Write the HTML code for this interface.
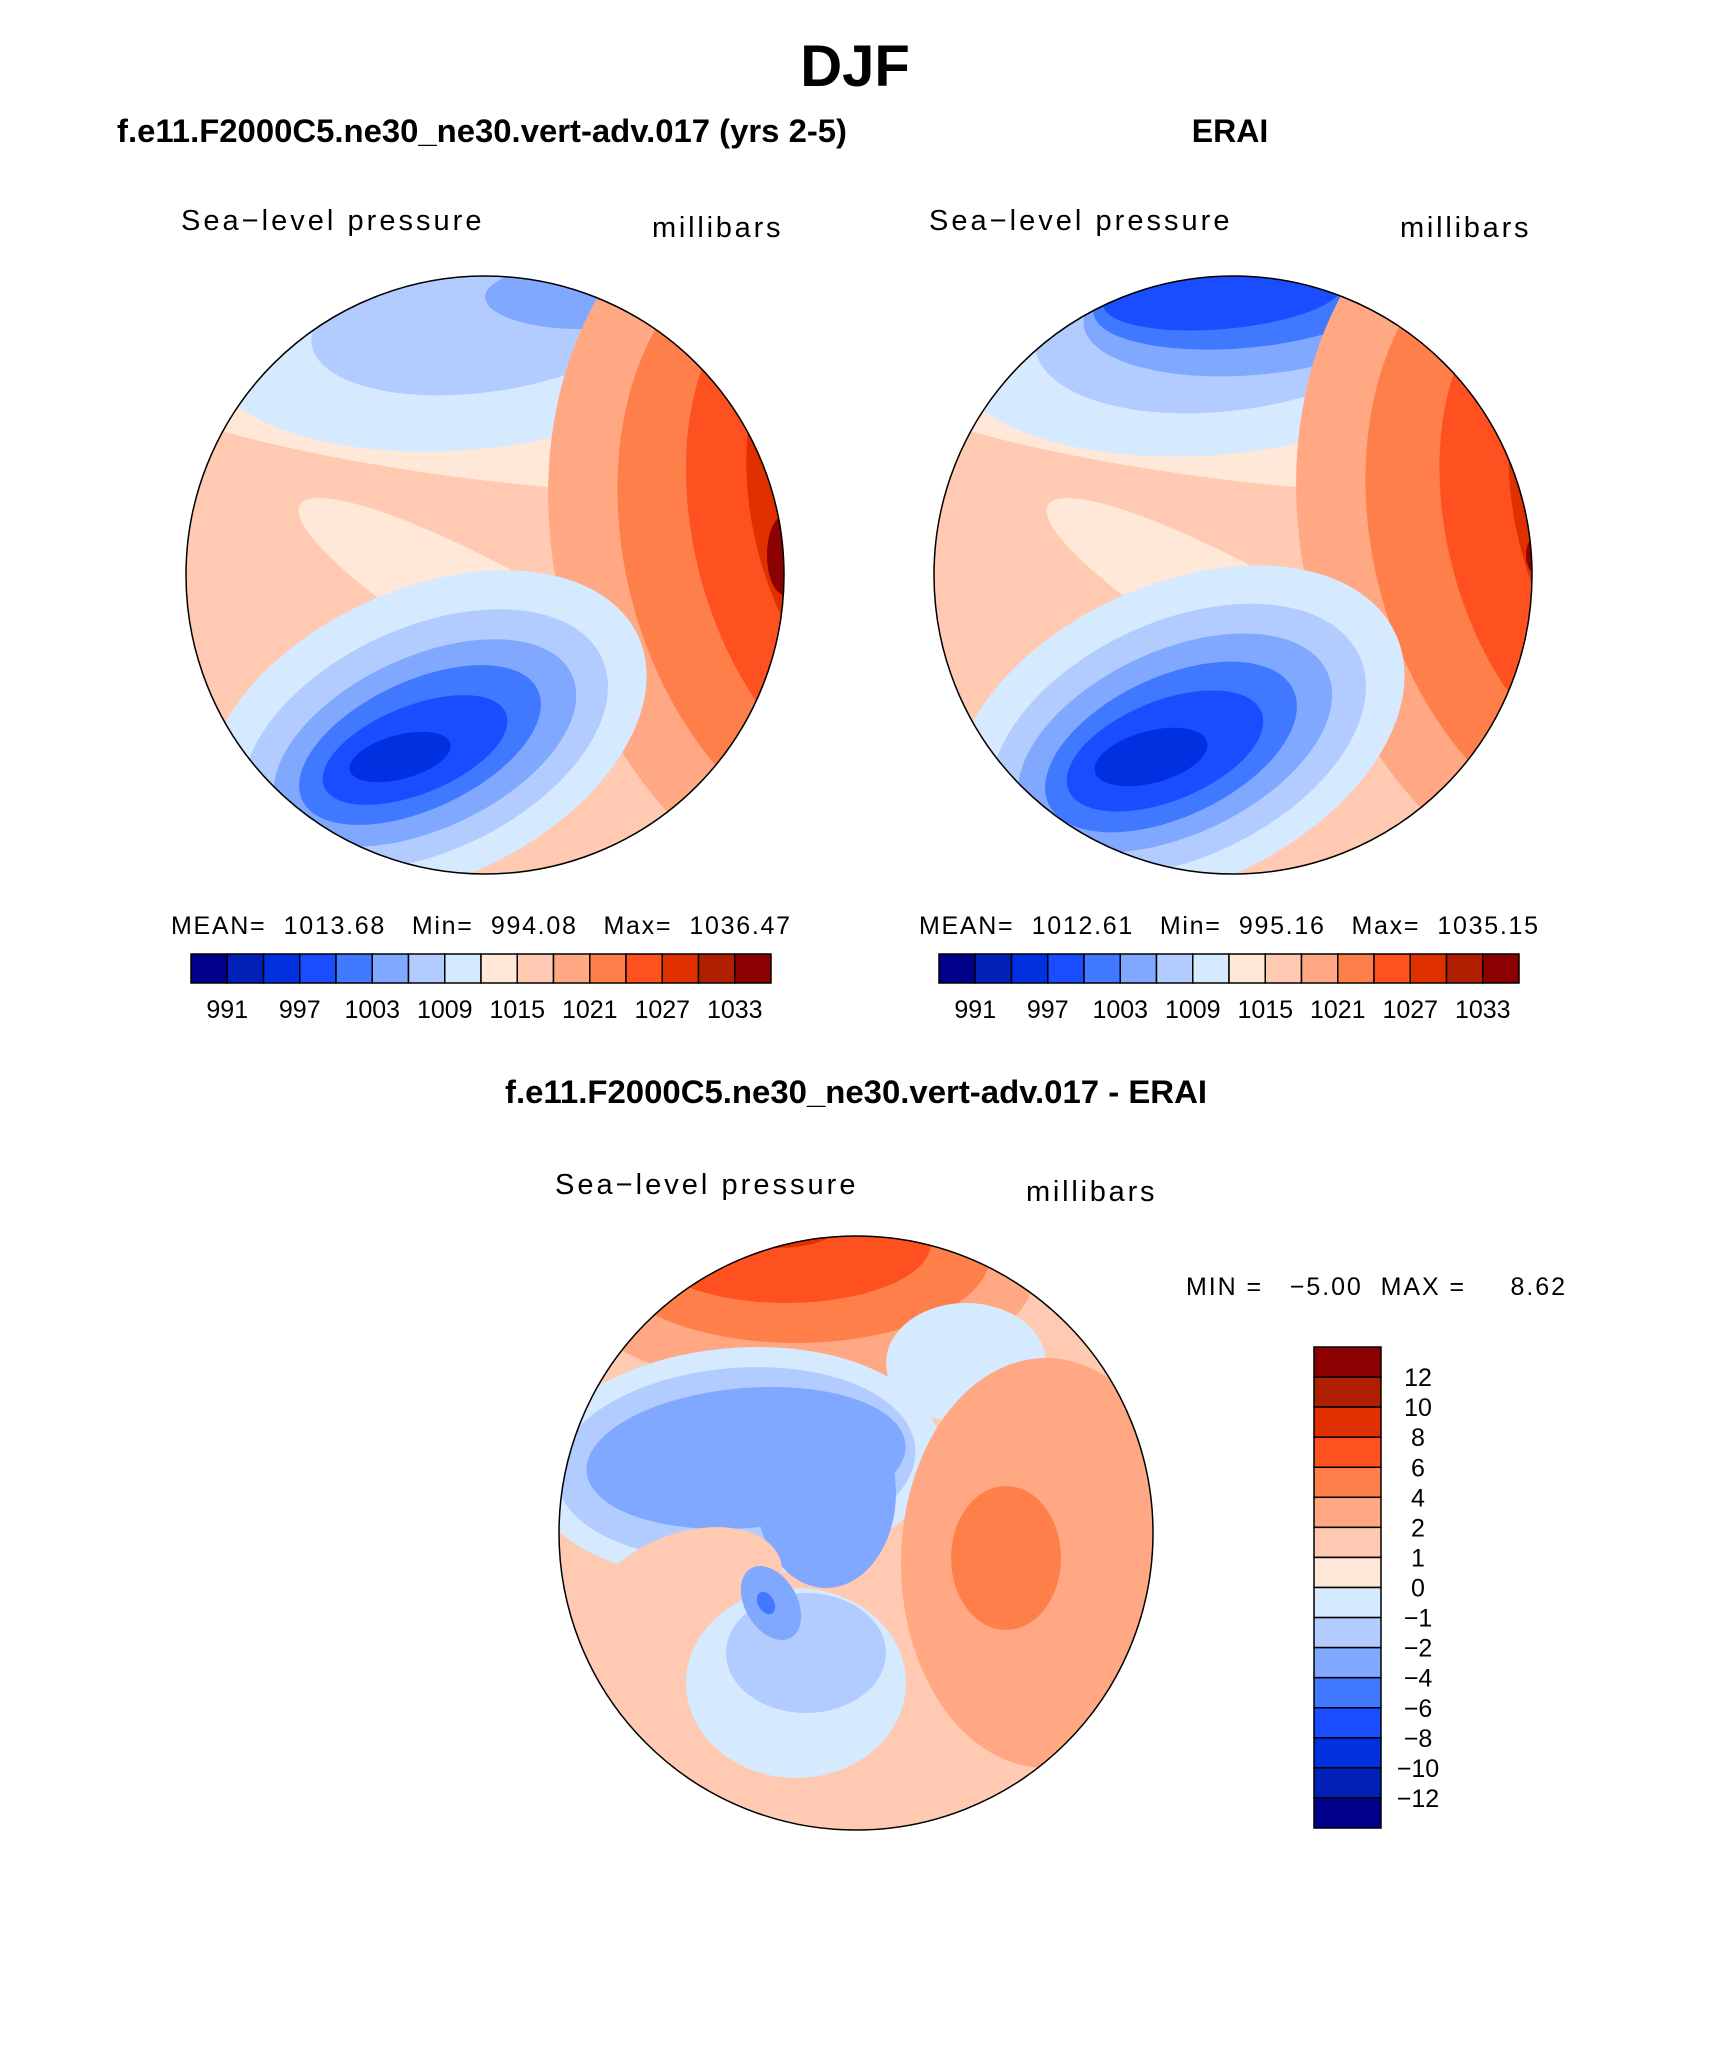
<!DOCTYPE html>
<html><head><meta charset="utf-8">
<style>
html,body{margin:0;padding:0;background:#fff;}
svg{display:block;}
text{font-family:"Liberation Sans",sans-serif;fill:#000;white-space:pre;}
.b{font-weight:bold;}
.t{letter-spacing:1.5px;}
</style></head>
<body>
<svg id="fig" width="1710" height="2061" viewBox="0 0 1710 2061" xmlns="http://www.w3.org/2000/svg" xml:space="preserve">
<text x="855" y="86" font-size="58" class="b" text-anchor="middle">DJF</text>
<text x="482" y="142" font-size="32" class="b" text-anchor="middle" textLength="730" lengthAdjust="spacingAndGlyphs">f.e11.F2000C5.ne30_ne30.vert-adv.017 (yrs 2-5)</text>
<text x="1230" y="142" font-size="32" class="b" text-anchor="middle">ERAI</text>
<text x="856" y="1103" font-size="32" class="b" text-anchor="middle" textLength="702" lengthAdjust="spacingAndGlyphs">f.e11.F2000C5.ne30_ne30.vert-adv.017 - ERAI</text>

<text x="181" y="230" font-size="29" class="t" textLength="302">Sea−level pressure</text>
<text x="652" y="237" font-size="29" class="t" textLength="130">millibars</text>
<text x="929" y="230" font-size="29" class="t" textLength="302">Sea−level pressure</text>
<text x="1400" y="237" font-size="29" class="t" textLength="130">millibars</text>
<text x="555" y="1194" font-size="29" class="t" textLength="302">Sea−level pressure</text>
<text x="1026" y="1201" font-size="29" class="t" textLength="130">millibars</text>

<text x="171" y="934" font-size="25" textLength="619">MEAN=  1013.68   Min=  994.08   Max=  1036.47</text>
<text x="919" y="934" font-size="25" textLength="619">MEAN=  1012.61   Min=  995.16   Max=  1035.15</text>
<text x="1186" y="1295" font-size="25" textLength="379">MIN =   −5.00  MAX =     8.62</text>
<g id="layer"></g>
</svg>
<script>
// colour scales
const absLevels = [991,997,1003,1009,1015,1021,1027,1033];
const diffLevels = ["12","10","8","6","4","2","1","0","−1","−2","−4","−6","−8","−10","−12"];
const colors = ["#00008b","#0020b8","#0030e0","#1a4dff","#4078ff","#80a8ff","#b3ccff","#d6eaff","#ffe8d8","#ffc9b2","#ffa883","#ff7f4a","#ff5020","#e03000","#b02000","#8b0000"];
// field blobs: [dx, dy, rx, ry, rotation, colorIndex]
const modelField = [
 [-40,-140,300,40,8,8],[40,60,260,50,30,8],
 [-20,-240,260,115,-5,7],[0,-255,175,72,-8,6],[95,-278,95,32,0,5],
 [360,-30,290,380,-15,10],[365,-30,225,320,-15,11],[375,-40,165,270,-15,12],[385,-50,115,210,-15,13],[370,-60,65,150,-15,14],[300,-20,18,40,0,15],
 [-60,160,235,145,-25,7],[-60,165,195,112,-25,6],[-60,168,162,86,-25,5],[-65,170,130,64,-25,4],[-70,175,98,44,-22,3],[-85,182,52,22,-15,2]
];
const obsField = [
 [-40,-140,300,40,8,8],[40,60,260,50,30,8],
 [-20,-245,270,125,-5,7],[0,-255,200,90,-8,6],[20,-265,170,65,-5,5],[10,-275,150,48,-5,4],[-10,-280,120,34,-5,3],
 [360,-40,290,380,-15,10],[365,-40,225,320,-15,11],[375,-45,160,260,-15,12],[385,-50,100,200,-15,13],[350,-55,35,90,-15,14],[305,-20,12,20,0,15],
 [-55,160,240,150,-25,7],[-55,165,200,118,-25,6],[-58,168,168,92,-25,5],[-62,172,135,70,-25,4],[-68,176,104,50,-22,3],[-82,182,58,26,-15,2]
];
const diffField = [
 [-60,-265,240,120,0,10],[-60,-280,195,90,0,11],[-70,-290,145,60,0,12],[-80,-305,60,20,0,13],
 [-120,-70,205,115,-5,7],[-120,-70,180,95,-5,6],[-110,-75,160,70,-5,5],[-30,-40,70,95,0,5],
 [110,-170,80,60,0,7],
 [190,30,145,205,0,10],[150,25,55,72,0,11],[-170,60,100,60,-20,9],
 [-60,150,110,95,0,7],[-50,120,80,60,0,6],[-85,70,26,40,-30,5],[-90,70,8,12,-30,4]
];
const NS="http://www.w3.org/2000/svg";
const layer=document.getElementById('layer');
function mk(tag,attrs,parent){const e=document.createElementNS(NS,tag);for(const k in attrs)e.setAttribute(k,attrs[k]);(parent||layer).appendChild(e);return e;}
function drawMap(cx,cy,r,base,field,id,name){
  const defs=mk('defs',{});
  const cp=mk('clipPath',{id:id},defs);mk('circle',{cx:cx,cy:cy,r:r},cp);
  const g=mk('g',{'clip-path':'url(#'+id+')'});
  
  
  mk('rect',{x:cx-r,y:cy-r,width:2*r,height:2*r,fill:colors[base]},g);
  field.forEach(f=>{
    const e=mk('ellipse',{cx:cx+f[0],cy:cy+f[1],rx:f[2],ry:f[3],fill:colors[f[5]],transform:'rotate('+f[4]+' '+(cx+f[0])+' '+(cy+f[1])+')'},g);
    
    
  });
  const o=mk('circle',{cx:cx,cy:cy,r:r,fill:'none',stroke:'#000','stroke-width':1.5});
  
  
}
drawMap(485,575,299,9,modelField,'c1','model-map');
drawMap(1233,575,299,9,obsField,'c2','obs-map');
drawMap(856,1533,297,9,diffField,'c3','diff-map');
function hbar(x0,name){
  const w=(771-191)/16;
  colors.forEach((c,i)=>{
    const b=mk('rect',{x:x0+i*w,y:954,width:w,height:29,fill:c,stroke:'#000','stroke-width':1.5});
    
    
  });
  absLevels.forEach((v,j)=>{
    const t=mk('text',{x:x0+(2*j+1)*w,y:1018,'font-size':25,'text-anchor':'middle'});
    t.textContent=v;
    
    
  });
}
hbar(191,'model-colorbar');
hbar(939,'obs-colorbar');
(function(){
  const y0=1347,h=(1828-1347)/16;
  colors.slice().reverse().forEach((c,i)=>{
    const b=mk('rect',{x:1314,y:y0+i*h,width:67,height:h,fill:c,stroke:'#000','stroke-width':1.5});
    
    
  });
  diffLevels.forEach((v,j)=>{
    const t=mk('text',{x:1418,y:y0+(j+1)*h+9,'font-size':25,'text-anchor':'middle'});
    t.textContent=v;
    
    
  });
})();
</script>
</body></html>
